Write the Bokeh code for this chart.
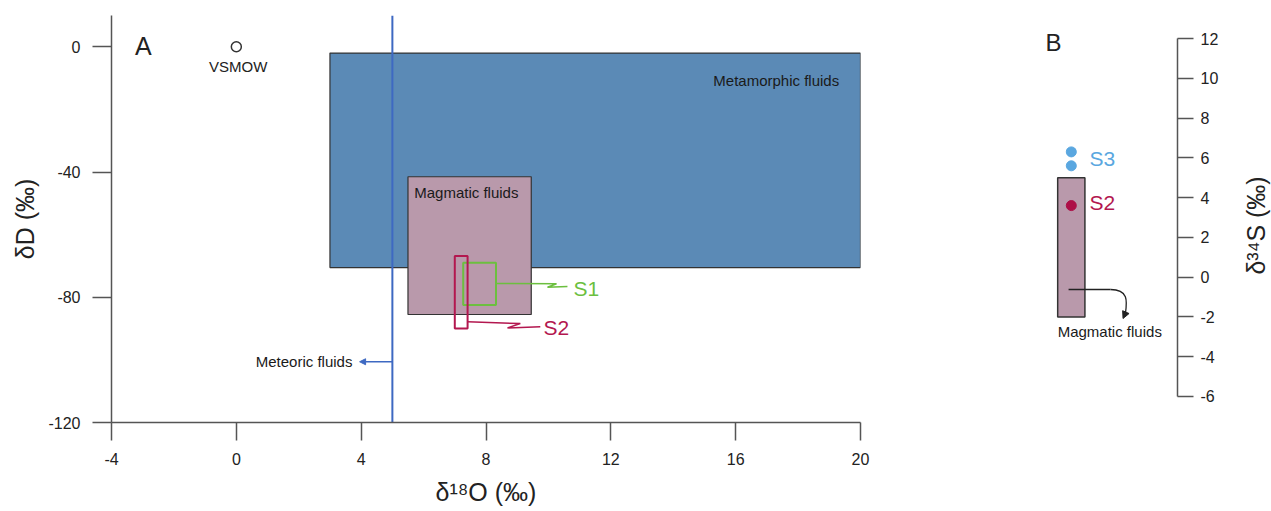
import math
from bokeh.plotting import figure
from bokeh.layouts import row
from bokeh.models import FixedTicker, Arrow, NormalHead, Range1d
from bokeh.core.properties import value
from bokeh.embed import file_html
from bokeh.resources import INLINE

FONT = "Liberation Sans"

# ---------------- Panel A data ----------------
x_ticks_a = [-4, 0, 4, 8, 12, 16, 20]
y_ticks_a = [-120, -80, -40, 0]

# fluid fields (left, right, top, bottom)
field_names = ["Metamorphic fluids", "Magmatic fluids"]
field_left = [3.0, 5.5]
field_right = [20.0, 9.45]
field_top = [-2.0, -41.5]
field_bottom = [-70.5, -85.5]
field_colors = ["#5b8ab6", "#b999ab"]

# sample boxes
samp_names = ["S1", "S2"]
samp_left = [7.27, 7.0]
samp_right = [8.32, 7.41]
samp_top = [-69.0, -66.8]
samp_bottom = [-82.5, -90.0]
samp_colors = ["#6cbf3f", "#b3174f"]

meteoric_x = 5.0
vsmow_x = [0.0]
vsmow_y = [0.0]

# leader lines (data coordinates)
s1_lead_x = [8.32, 10.26, 9.97, 10.61]
s1_lead_y = [-75.6, -75.7, -76.8, -76.6]
s2_lead_x = [7.41, 9.10, 8.69, 9.74]
s2_lead_y = [-87.8, -88.4, -89.8, -89.4]

# ---------------- Panel B data ----------------
y_ticks_b = [-6, -4, -2, 0, 2, 4, 6, 8, 10, 12]
mag_s_low = -2.0
mag_s_high = 5.0
s3_vals = [6.3, 5.6]
s2_vals = [3.6]

H = 510
TOP = 15
BOTTOM = 88
B_YRANGE = (-7.31, 13.16)


def style_axis(ax, tick_out, standoff, title, title_standoff, ticks):
    ax.axis_line_color = "#555555"
    ax.axis_line_width = 1.5
    ax.major_tick_line_color = "#555555"
    ax.major_tick_line_width = 1.5
    ax.major_tick_in = 0
    ax.major_tick_out = tick_out
    ax.minor_tick_line_color = None
    ax.major_label_text_font = FONT
    ax.major_label_text_font_size = "16px"
    ax.major_label_text_color = "#222222"
    ax.major_label_standoff = standoff
    ax.axis_label = title
    ax.axis_label_text_font = FONT
    ax.axis_label_text_font_size = "25px"
    ax.axis_label_text_font_style = "normal"
    ax.axis_label_text_color = "#222222"
    ax.axis_label_standoff = title_standoff
    ax.ticker = FixedTicker(ticks=ticks)
    ax.major_label_overrides = {t: str(t) for t in ticks}


# ================= Panel A =================
pA = figure(width=1000, height=H, x_range=Range1d(-4, 20), y_range=Range1d(-120, 10),
            output_backend="svg", toolbar_location=None,
            min_border_left=111, min_border_right=140, min_border_top=TOP, min_border_bottom=BOTTOM)
pA.grid.visible = False
pA.outline_line_color = None

style_axis(pA.xaxis[0], 18, 12, "δ¹⁸O (‰)", 10, x_ticks_a)
style_axis(pA.yaxis[0], 19, 12, "δD (‰)", 6, y_ticks_a)
pA.xaxis.bounds = (-4, 20)
pA.yaxis.bounds = (-120, 10)

pA.quad(left=field_left, right=field_right, top=field_top, bottom=field_bottom,
        fill_color=field_colors, line_color="#333333", line_width=1.2)

pA.segment(x0=[meteoric_x], y0=[-120], x1=[meteoric_x], y1=[10],
           line_color="#3e69c2", line_width=2)

pA.quad(left=samp_left, right=samp_right, top=samp_top, bottom=samp_bottom,
        fill_color=None, line_color=samp_colors, line_width=2)

pA.line(s1_lead_x, s1_lead_y, line_color=samp_colors[0], line_width=1.5)
pA.line(s2_lead_x, s2_lead_y, line_color=samp_colors[1], line_width=1.5)

pA.scatter(vsmow_x, vsmow_y, size=10, fill_color="white", line_color="#333333", line_width=1.5)

pA.text(x=[0.06], y=[-6.4], text=["VSMOW"], text_font=value(FONT), text_font_size="15px",
        text_align="center", text_baseline="middle", text_color="#222222")
pA.text(x=[17.3], y=[-10.9], text=[field_names[0]], text_font=value(FONT), text_font_size="15px",
        text_align="center", text_baseline="middle", text_color="#1a1a1a")
pA.text(x=[7.37], y=[-46.6], text=[field_names[1]], text_font=value(FONT), text_font_size="15px",
        text_align="center", text_baseline="middle", text_color="#1a1a1a")
pA.text(x=[3.72], y=[-100.6], text=["Meteoric fluids"], text_font=value(FONT), text_font_size="15px",
        text_align="right", text_baseline="middle", text_color="#1a1a1a")
pA.text(x=[10.8, 9.84], y=[-77.3, -89.7], text=samp_names, text_font=value(FONT),
        text_font_size="21px", text_align="left", text_baseline="middle", text_color=samp_colors)
pA.text(x=[-2.98], y=[0.2], text=["A"], text_font=value(FONT), text_font_size="25px",
        text_align="center", text_baseline="middle", text_color="#222222")

pA.add_layout(Arrow(end=NormalHead(size=6, fill_color="#3e69c2", line_color="#3e69c2"),
                    x_start=meteoric_x, y_start=-100.6, x_end=3.95, y_end=-100.6,
                    line_color="#3e69c2", line_width=1.5))

# ================= Panel B =================
pB = figure(width=235, height=H, x_range=Range1d(-2.6, 3.9), y_range=Range1d(*B_YRANGE),
            output_backend="svg", toolbar_location=None, y_axis_location="right",
            x_axis_location=None,
            min_border_left=0, min_border_right=58, min_border_top=TOP, min_border_bottom=BOTTOM)
pB.grid.visible = False
pB.outline_line_color = None

axb = pB.yaxis[0]
style_axis(axb, 16, 7, None, 0, y_ticks_b)
axb.bounds = (-6, 12)

pB.quad(left=[-0.5], right=[0.5], top=[mag_s_high], bottom=[mag_s_low],
        fill_color="#b999ab", line_color="#333333", line_width=1.5)

pB.scatter([0.0] * len(s3_vals), s3_vals, size=10, fill_color="#5aa7e0", line_color="#5aa7e0")
pB.scatter([0.0] * len(s2_vals), s2_vals, size=10, fill_color="#ad0f47", line_color="#ad0f47")

pB.text(x=[0.67, 0.67], y=[5.97, 3.76], text=["S3", "S2"], text_font=value(FONT),
        text_font_size="21px", text_align="left", text_baseline="middle",
        text_color=["#5aa7e0", "#b3174f"])
pB.text(x=[-0.65], y=[11.8], text=["B"], text_font=value(FONT), text_font_size="24px",
        text_align="center", text_baseline="middle", text_color="#222222")
pB.text(x=[-0.5], y=[-2.72], text=["Magmatic fluids"], text_font=value(FONT), text_font_size="15px",
        text_align="left", text_baseline="middle", text_color="#1a1a1a")

# curved arrow
pB.segment(x0=[-0.1], y0=[-0.62], x1=[1.44], y1=[-0.62], line_color="#222222", line_width=1.3)
pB.bezier(x0=[1.44], y0=[-0.62], x1=[1.99], y1=[-1.80], cx0=[2.10], cy0=[-0.62],
          cx1=[2.05], cy1=[-1.2], line_color="#222222", line_width=1.3)
pB.add_layout(Arrow(end=NormalHead(size=7, fill_color="#222222", line_color="#222222"),
                    x_start=1.99, y_start=-1.80, x_end=1.90, y_end=-2.08,
                    line_color="#222222", line_width=1.3))

# ================= Panel B axis title strip =================
pC = figure(width=36, height=H, x_range=Range1d(0, 1), y_range=Range1d(*B_YRANGE),
            output_backend="svg", toolbar_location=None,
            x_axis_location=None, y_axis_location=None,
            min_border_left=0, min_border_right=0, min_border_top=TOP, min_border_bottom=BOTTOM)
pC.grid.visible = False
pC.outline_line_color = None
pC.text(x=[0.56], y=[2.6], text=["δ³⁴S (‰)"], angle=math.pi / 2, text_font=value(FONT),
        text_font_size="25px", text_align="center", text_baseline="middle", text_color="#222222")

layout = row(pA, pB, pC)
open("out.html", "w").write(file_html(layout, INLINE))
